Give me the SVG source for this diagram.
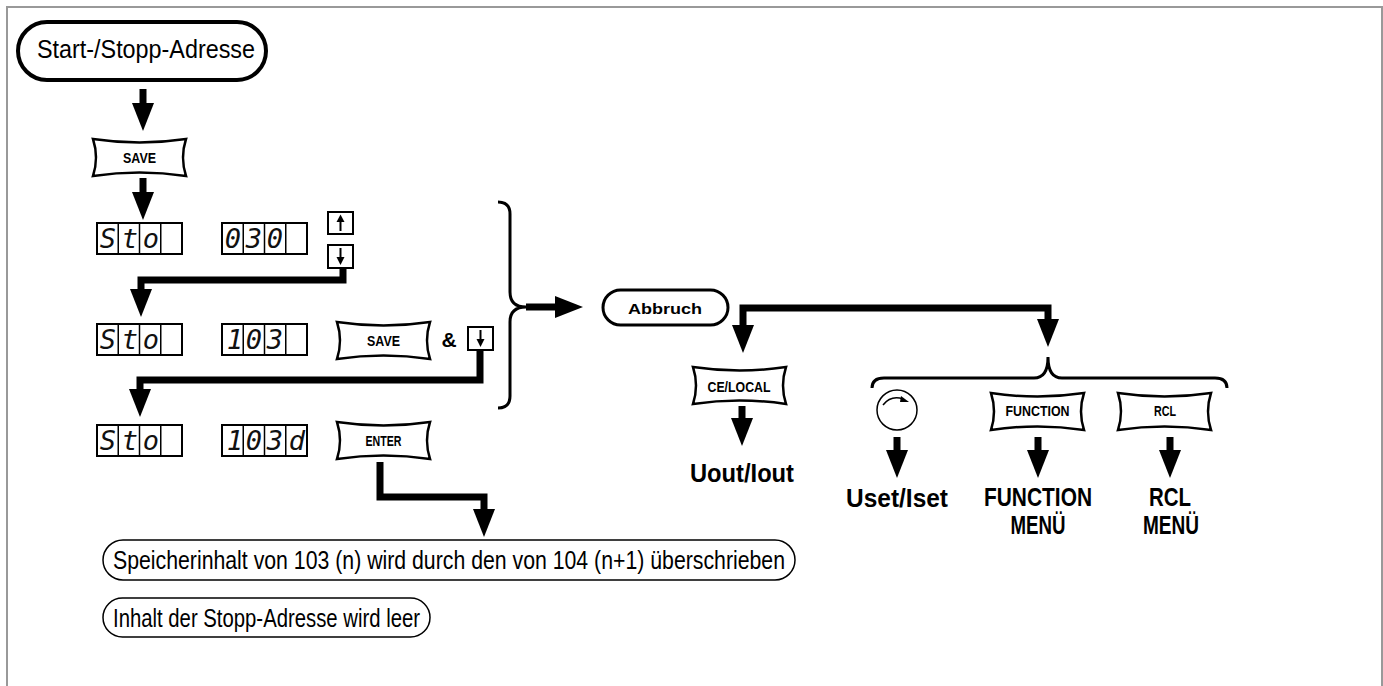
<svg xmlns="http://www.w3.org/2000/svg" xmlns:xlink="http://www.w3.org/1999/xlink" width="1383" height="686" viewBox="0 0 1383 686">
<style>
.frame{fill:none;stroke:#999;stroke-width:2}
.pill{fill:#fff;stroke:#000}
.keyshape{fill:#fff;stroke:#000;stroke-width:2.5;stroke-linejoin:miter}
.klbl{font-family:"Liberation Sans",Arial,sans-serif;font-weight:bold;font-size:15px;text-anchor:middle;fill:#000}
.big{font-family:"Liberation Sans",Arial,sans-serif;font-weight:bold;font-size:25px;text-anchor:middle;fill:#000}
.reg{font-family:"Liberation Sans",Arial,sans-serif;font-size:25px;fill:#000}
.disp{fill:#fff;stroke:#000;stroke-width:2}
.seg{font-family:"DejaVu Sans Mono","Liberation Mono",monospace;font-style:italic;font-size:27px;text-anchor:middle;fill:#111}
.conn{fill:none;stroke:#000;stroke-width:7;stroke-linejoin:miter;stroke-linecap:butt}
.brace{fill:none;stroke:#000;stroke-width:3}
.box{fill:#fff;stroke:#000;stroke-width:2}
</style>
<defs>
<marker id="ah" markerUnits="userSpaceOnUse" markerWidth="40" markerHeight="40" refX="0" refY="11" orient="auto-start-reverse" overflow="visible">
<path d="M0,0 L28,11 L0,22 Z" fill="#000"/>
</marker>
<path id="key" class="keyshape" d="M0,0 Q46.5,7 93,0 Q87,18.5 93,37 Q46.5,30 0,37 Q6,18.5 0,0 Z"/>
<g id="dispcells">
<rect class="disp" x="0" y="0" width="85" height="31"/>
<line x1="21.25" y1="0" x2="21.25" y2="31" stroke="#000" stroke-width="1.5"/>
<line x1="42.5" y1="0" x2="42.5" y2="31" stroke="#000" stroke-width="1.5"/>
<line x1="63.75" y1="0" x2="63.75" y2="31" stroke="#000" stroke-width="1.5"/>
</g>
<g id="downbox">
<rect class="box" x="0" y="0" width="25" height="23"/>
<line x1="12.5" y1="3" x2="12.5" y2="13" stroke="#000" stroke-width="2"/>
<path d="M8.5,12 L16.5,12 L12.5,20 Z" fill="#000"/>
</g>
<g id="upbox">
<rect class="box" x="0" y="0" width="25" height="22"/>
<line x1="12.5" y1="9" x2="12.5" y2="19" stroke="#000" stroke-width="2"/>
<path d="M8.5,10 L16.5,10 L12.5,2.5 Z" fill="#000"/>
</g>
</defs>

<rect class="frame" x="7" y="7" width="1375" height="690"/>

<g id="connectors">
<path class="conn" d="M143,89 V103" marker-end="url(#ah)"/>
<path class="conn" d="M143,178 V192" marker-end="url(#ah)"/>
<path class="conn" d="M343,268 V280 H141 V289" marker-end="url(#ah)"/>
<path class="conn" d="M480,350 V380 H140 V389" marker-end="url(#ah)"/>
<path class="conn" d="M380,462 V497 H484 V509" marker-end="url(#ah)"/>
<path class="conn" d="M526,307 H555" marker-end="url(#ah)"/>
<path class="conn" d="M743,325 V308 H1048 V319" marker-start="url(#ah)" marker-end="url(#ah)"/>
<path class="conn" d="M742,406 V418" marker-end="url(#ah)"/>
<path class="conn" d="M897,437 V450" marker-end="url(#ah)"/>
<path class="conn" d="M1038,437 V450" marker-end="url(#ah)"/>
<path class="conn" d="M1170,437 V450" marker-end="url(#ah)"/>
<path class="brace" d="M498,202 Q510,202 510,214 V292 Q510,307 526,307 Q510,307 510,322 V396 Q510,408 498,408"/>
<path class="brace" d="M872,388 Q872,378 884,378 H1034 Q1048,378 1048,357 Q1048,378 1062,378 H1215 Q1227,378 1227,388"/>
</g>

<g id="start">
<rect class="pill" x="18" y="22" width="248" height="58" rx="29" stroke-width="4"/>
<text class="reg" x="37" y="58" textLength="218" lengthAdjust="spacingAndGlyphs">Start-/Stopp-Adresse</text>
</g>

<g id="save1">
<use xlink:href="#key" x="93" y="139"/>
<text class="klbl" x="139.5" y="163" textLength="33" lengthAdjust="spacingAndGlyphs">SAVE</text>
</g>

<g id="row1">
<use xlink:href="#dispcells" x="97" y="223"/>
<text class="seg" x="108" y="248">S</text><text class="seg" x="130" y="248">t</text><text class="seg" x="151" y="248">o</text>
<use xlink:href="#dispcells" x="222" y="223"/>
<text class="seg" x="233" y="248">0</text><text class="seg" x="254" y="248">3</text><text class="seg" x="275" y="248">0</text>
<use xlink:href="#upbox" x="328" y="212"/>
<use xlink:href="#downbox" x="328" y="245"/>
</g>

<g id="row2">
<use xlink:href="#dispcells" x="97" y="324"/>
<text class="seg" x="108" y="349">S</text><text class="seg" x="130" y="349">t</text><text class="seg" x="151" y="349">o</text>
<use xlink:href="#dispcells" x="222" y="324"/>
<text class="seg" x="235" y="349">1</text><text class="seg" x="254" y="349">0</text><text class="seg" x="275" y="349">3</text>
<use xlink:href="#key" x="337" y="322"/>
<text class="klbl" x="383.5" y="346" textLength="33" lengthAdjust="spacingAndGlyphs">SAVE</text>
<text x="449" y="347" font-family="Liberation Sans,Arial,sans-serif" font-weight="bold" font-size="21" text-anchor="middle">&amp;</text>
<use xlink:href="#downbox" x="468" y="327"/>
</g>

<g id="row3">
<use xlink:href="#dispcells" x="97" y="425"/>
<text class="seg" x="108" y="450">S</text><text class="seg" x="130" y="450">t</text><text class="seg" x="151" y="450">o</text>
<use xlink:href="#dispcells" x="222" y="425"/>
<text class="seg" x="235" y="450">1</text><text class="seg" x="254" y="450">0</text><text class="seg" x="275" y="450">3</text><text class="seg" x="297" y="450">d</text>
<use xlink:href="#key" x="337" y="422"/>
<text class="klbl" x="383.5" y="446" font-size="13" textLength="36" lengthAdjust="spacingAndGlyphs">ENTER</text>
</g>

<g id="abbruch">
<rect class="pill" x="603" y="290" width="125" height="35" rx="17.5" stroke-width="3"/>
<text class="klbl" x="665" y="314" font-size="19" textLength="74" lengthAdjust="spacingAndGlyphs">Abbruch</text>
</g>

<g id="celocal">
<use xlink:href="#key" x="693" y="367"/>
<text class="klbl" x="739" y="392" textLength="63" lengthAdjust="spacingAndGlyphs">CE/LOCAL</text>
</g>

<g id="uout">
<text class="big" x="742" y="482" textLength="104" lengthAdjust="spacingAndGlyphs">Uout/Iout</text>
</g>

<g id="knob">
<circle cx="897" cy="410" r="20" fill="#fff" stroke="#000" stroke-width="1.5"/>
<path d="M883,405 Q891,395 903,399" fill="none" stroke="#000" stroke-width="1.5"/>
<path d="M901,396 L909,402 L900,402 Z" fill="#000"/>
</g>

<g id="function">
<use xlink:href="#key" x="991" y="393"/>
<text class="klbl" x="1037.5" y="416" textLength="64" lengthAdjust="spacingAndGlyphs">FUNCTION</text>
</g>

<g id="rcl">
<use xlink:href="#key" x="1118" y="393"/>
<text class="klbl" x="1165" y="416" textLength="22" lengthAdjust="spacingAndGlyphs">RCL</text>
</g>

<g id="uset">
<text class="big" x="897" y="507" textLength="102" lengthAdjust="spacingAndGlyphs">Uset/Iset</text>
</g>

<g id="functionmenu">
<text class="big" x="1038" y="506" textLength="108" lengthAdjust="spacingAndGlyphs">FUNCTION</text>
<text class="big" x="1038" y="534" font-size="24" textLength="55" lengthAdjust="spacingAndGlyphs">MENÜ</text>
</g>

<g id="rclmenu">
<text class="big" x="1170" y="506" textLength="42" lengthAdjust="spacingAndGlyphs">RCL</text>
<text class="big" x="1171" y="534" font-size="24" textLength="56" lengthAdjust="spacingAndGlyphs">MENÜ</text>
</g>

<g id="speicher">
<rect class="pill" x="103" y="540" width="692" height="40" rx="20" stroke-width="1.5"/>
<text class="reg" x="113" y="569" font-size="22" textLength="672" lengthAdjust="spacingAndGlyphs">Speicherinhalt von 103 (n) wird durch den von 104 (n+1) überschrieben</text>
</g>

<g id="inhalt">
<rect class="pill" x="103" y="598" width="327" height="39" rx="19.5" stroke-width="1.5"/>
<text class="reg" x="113" y="627" font-size="22" textLength="307" lengthAdjust="spacingAndGlyphs">Inhalt der Stopp-Adresse wird leer</text>
</g>
</svg>
